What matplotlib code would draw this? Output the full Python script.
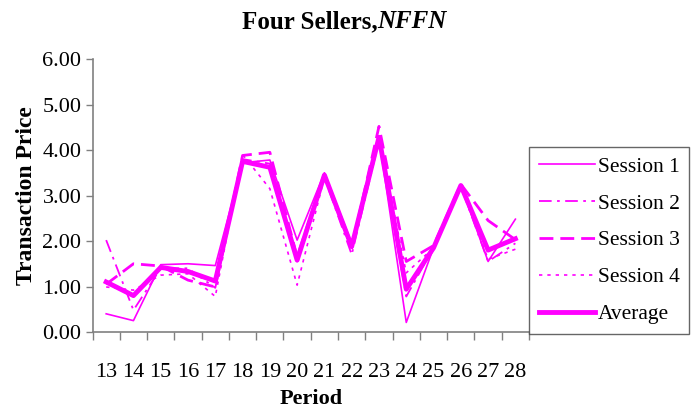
import matplotlib
matplotlib.use("Agg")
import matplotlib.pyplot as plt
import numpy as np

periods = [13, 14, 15, 16, 17, 18, 19, 20, 21, 22, 23, 24, 25, 26, 27, 28]
session1 = [0.40, 0.25, 1.48, 1.50, 1.46, 3.72, 3.78, 2.02, 3.50, 1.95, 4.25, 0.21, 1.85, 3.22, 1.55, 2.48]
session2 = [2.02, 0.48, 1.40, 1.40, 0.97, 3.80, 3.70, 1.55, 3.40, 1.70, 4.20, 0.78, 1.85, 3.20, 1.55, 1.95]
session3 = [1.05, 1.50, 1.45, 1.14, 0.99, 3.88, 3.95, 1.65, 3.45, 1.85, 4.52, 1.55, 1.90, 3.25, 2.45, 2.03]
session4 = [0.99, 0.92, 1.25, 1.28, 0.78, 3.90, 3.15, 1.03, 3.40, 1.80, 4.25, 1.30, 1.85, 3.20, 1.60, 1.82]
average = [1.10, 0.80, 1.42, 1.33, 1.12, 3.75, 3.62, 1.58, 3.45, 1.88, 4.28, 0.94, 1.85, 3.22, 1.80, 2.05]
y_ticks = [0, 1, 2, 3, 4, 5, 6]

plt.rcParams['font.family'] = ['Liberation Serif', 'DejaVu Serif']
C = '#FF00FF'

fig = plt.figure(figsize=(6.91, 4.11), dpi=100)
ax = fig.add_axes([0.1339, 0.1922, 0.7656 - 0.1339, 0.8564 - 0.1922])

x = np.arange(len(periods))
ax.plot(x, session1, color=C, lw=1.2, ls='-', label='Session 1')
ax.plot(x, session2, color=C, lw=1.3, ls=(0, (7, 3, 1.5, 3)), label='Session 2')
ax.plot(x, session3, color=C, lw=2.0, ls=(0, (5, 2.5)), label='Session 3')
ax.plot(x, session4, color=C, lw=1.2, ls=(0, (2, 3)), label='Session 4')
ax.plot(x, average, color=C, lw=3.5, ls='-', label='Average')

ax.set_xlim(-0.5, len(periods) - 0.5)
ax.set_ylim(0, 6)
ax.set_yticks(y_ticks)
ax.set_yticklabels([f"{v:.2f}" for v in y_ticks], fontsize=16)
ax.set_xticks(x)
ax.set_xticklabels([str(p) for p in periods], fontsize=16)
ax.set_xticks(np.arange(-0.5, len(periods), 1), minor=True)
ax.tick_params(axis='x', which='major', length=0, pad=22)
ax.tick_params(axis='x', which='minor', length=6, width=1, color='#808080', direction='out')
ax.tick_params(axis='y', length=5, width=1, color='#808080', direction='out', pad=3)

for s in ['top', 'right']:
    ax.spines[s].set_visible(False)
for s in ['left', 'bottom']:
    ax.spines[s].set_color('#808080')
    ax.spines[s].set_linewidth(1.2)

ax.set_ylabel('Transaction Price', fontsize=17, fontweight='bold', labelpad=4)
ax.set_xlabel('Period', fontsize=16, fontweight='bold', labelpad=5)

fig.text(0.546, 0.948, 'Four Sellers,', ha='right', va='center', fontsize=18, fontweight='bold')
fig.text(0.546, 0.948, 'NFFN', ha='left', va='center', fontsize=18, fontweight='bold', style='italic')

leg = ax.legend(loc='upper left', bbox_to_anchor=(0.7656, 0.6423), bbox_transform=fig.transFigure,
                fontsize=15.5, frameon=True, fancybox=False, handlelength=2.6, handletextpad=0.15,
                labelspacing=0.78, borderpad=0.45, borderaxespad=0)
leg.get_frame().set_edgecolor('#404040')
leg.get_frame().set_linewidth(1.0)

fig.savefig('out.png', dpi=100)
